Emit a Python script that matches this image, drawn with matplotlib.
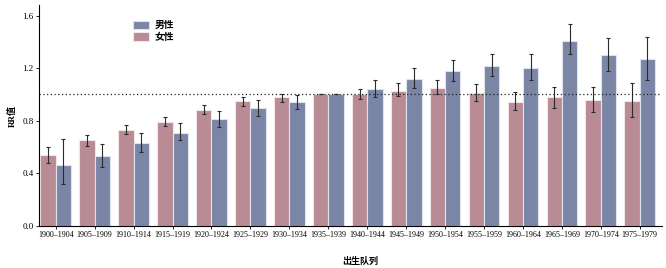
import numpy as np
import matplotlib
matplotlib.use('Agg')
from matplotlib import pyplot as plt

plt.rcParams['font.family'] = ['Liberation Serif', 'Noto Sans CJK SC']

# 出生队列
cohorts = ['1900–1904', '1905–1909', '1910–1914', '1915–1919', '1920–1924',
           '1925–1929', '1930–1934', '1935–1939', '1940–1944', '1945–1949',
           '1950–1954', '1955–1959', '1960–1964', '1965–1969', '1970–1974',
           '1975–1979']
# 女性 RR 及置信区间
female = [0.54, 0.65, 0.73, 0.79, 0.88, 0.95, 0.98, 1.00, 1.00, 1.03,
          1.05, 1.01, 0.94, 0.98, 0.96, 0.95]
female_lo = [0.48, 0.61, 0.70, 0.76, 0.85, 0.915, 0.945, 1.00, 0.965, 0.99,
             1.00, 0.95, 0.88, 0.90, 0.87, 0.83]
female_hi = [0.60, 0.69, 0.765, 0.825, 0.92, 0.98, 1.005, 1.00, 1.04, 1.085,
             1.11, 1.08, 1.02, 1.06, 1.06, 1.09]
# 男性 RR 及置信区间
male = [0.46, 0.53, 0.63, 0.71, 0.81, 0.90, 0.94, 1.00, 1.04, 1.12,
        1.18, 1.22, 1.20, 1.41, 1.30, 1.27]
male_lo = [0.32, 0.45, 0.565, 0.655, 0.755, 0.84, 0.89, 1.00, 0.98, 1.05,
           1.105, 1.14, 1.11, 1.31, 1.18, 1.11]
male_hi = [0.665, 0.62, 0.705, 0.78, 0.875, 0.955, 0.995, 1.00, 1.11, 1.20,
           1.265, 1.31, 1.31, 1.535, 1.43, 1.44]

female = np.array(female); male = np.array(male)
ferr = [female - np.array(female_lo), np.array(female_hi) - female]
merr = [male - np.array(male_lo), np.array(male_hi) - male]

fig = plt.figure(figsize=(6.66, 2.68), dpi=100)
ax = fig.add_axes([0.0586, 0.157, 0.935, 0.824])

x = np.arange(len(cohorts))
w = 0.395
# 女性在左，男性在右
ax.bar(x - w/2, female, w, color='#b98b94', edgecolor='#f1e6e8', linewidth=0.8,
       label='女性', zorder=2)
ax.bar(x + w/2, male, w, color='#7b85a5', edgecolor='#dfe3ee', linewidth=0.8,
       label='男性', zorder=2)
ax.errorbar(x - w/2, female, yerr=ferr, fmt='none', ecolor='#2b2b2b',
            elinewidth=0.8, capsize=1.2, capthick=0.8, zorder=3)
ax.errorbar(x + w/2, male, yerr=merr, fmt='none', ecolor='#2b2b2b',
            elinewidth=0.8, capsize=1.2, capthick=0.8, zorder=3)

ax.axhline(1.0, color='#222222', linestyle=(0, (1, 2)), linewidth=0.9, zorder=4)

ax.set_xlim(-0.43, 15.565)
ax.set_ylim(0, 1.68)
ax.set_yticks([0.0, 0.4, 0.8, 1.2, 1.6])
ax.set_yticklabels(['0.0', '0.4', '0.8', '1.2', '1.6'], fontsize=6.5)
ax.set_xticks(x)
ax.set_xticklabels(cohorts, fontsize=5.8)
ax.tick_params(axis='both', length=2, width=0.6, pad=2)

for s in ['top', 'right']:
    ax.spines[s].set_visible(False)
for s in ['left', 'bottom']:
    ax.spines[s].set_linewidth(0.8)

ax.set_ylabel('RR值', fontsize=6.5, fontweight='bold', labelpad=4)
ax.set_xlabel('出生队列', fontsize=6.5, fontweight='bold')
ax.xaxis.set_label_coords(0.515, -0.14)

# 图例：男性在上
h, l = ax.get_legend_handles_labels()
leg = ax.legend(h[::-1], l[::-1], loc='upper left', bbox_to_anchor=(0.137, 0.97),
                frameon=False, handlelength=1.6, handleheight=1.0,
                labelspacing=0.15, handletextpad=0.6,
                prop={'family': ['Noto Sans CJK SC'], 'size': 7, 'weight': 'bold'})

fig.savefig('out.png', dpi=100)
